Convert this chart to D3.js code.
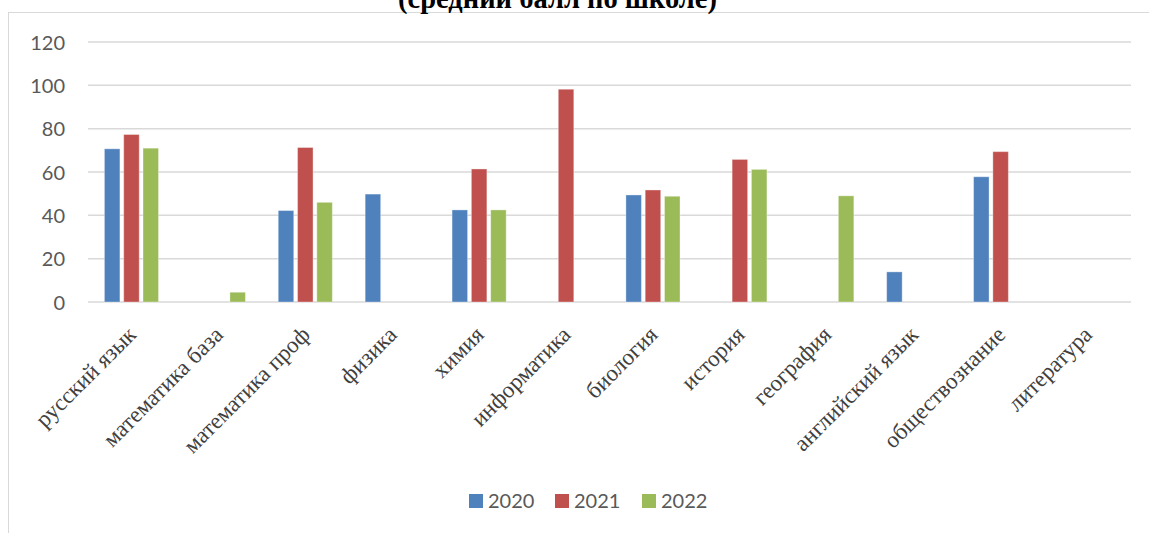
<!DOCTYPE html>
<html><head><meta charset="utf-8">
<script src="https://cdn.jsdelivr.net/npm/d3@7"></script>
<style>body{margin:0;background:#fff;}svg{display:block;}</style>
</head><body>
<svg id="c" width="1149" height="533"></svg>
<script>
const categories = ["русский язык","математика база","математика проф","физика","химия","информатика","биология","история","география","английский язык","обществознание","литература"];
const seriesNames = ["2020","2021","2022"];
const v2020 = [70.7, null, 42.2, 49.8, 42.5, null, 49.4, null, null, 13.9, 57.8, null];
const v2021 = [77.3, null, 71.3, null, 61.4, 98.2, 51.7, 65.8, null, null, 69.4, null];
const v2022 = [71.0, 4.5, 46.0, null, 42.5, null, 48.8, 61.2, 49.0, null, null, null];
const yTicks = [0,20,40,60,80,100,120];
const colors = ["#4f81bd","#c0504d","#9bbb59"];
const titleText = "(средний балл по школе)";

const series = [v2020, v2021, v2022];
const svg = d3.select("#c");

// frame
svg.append("rect").attr("x",8.5).attr("y",12.5).attr("width",1160).attr("height",540)
  .attr("fill","none").attr("stroke","#d9d9d9").attr("stroke-width",1);

// title (partially cut off at the top, as in the reference)
svg.append("text").attr("x",557.5).attr("y",8).attr("text-anchor","middle")
  .attr("font-family","Liberation Serif, Times New Roman, serif").attr("font-weight","bold")
  .attr("font-size",28.5).attr("fill","#000").text(titleText);

const pL = 88, pR = 1131, pT = 42, pB = 302;
const x = d3.scaleBand().domain(categories).range([pL,pR]).paddingInner(0).paddingOuter(0);
const y = d3.scaleLinear().domain([0,120]).range([pB,pT]);

// gridlines
svg.append("g").selectAll("line").data(yTicks).join("line")
  .attr("x1",pL).attr("x2",pR).attr("y1",d=>y(d)).attr("y2",d=>y(d))
  .attr("stroke","#d9d9d9").attr("stroke-width",1.5);

// y axis labels
const yAxis = d3.axisLeft(y).tickValues(yTicks).tickSize(0).tickPadding(0);
const ya = svg.append("g").attr("transform",`translate(65,0)`).call(yAxis);
ya.select(".domain").remove();
ya.selectAll("text").attr("font-family","Lato, Carlito, Calibri, sans-serif").attr("font-size",20)
  .attr("fill","#595959").attr("dy","0.36em");

// bars
const barW = 15.5, gap = 3.8;
const groupW = 3*barW + 2*gap;
const sub = d3.scaleBand().domain(seriesNames).range([0, groupW]).paddingInner(gap/(barW+gap)).paddingOuter(0);
series.forEach((vals, si) => {
  svg.append("g").selectAll("rect").data(categories.map((c,i)=>({c, v: vals[i]})).filter(d=>d.v!=null)).join("rect")
    .attr("x", d => x(d.c) + x.bandwidth()/2 - groupW/2 + sub(seriesNames[si]))
    .attr("width", sub.bandwidth())
    .attr("y", d => y(d.v))
    .attr("height", d => y(0) - y(d.v))
    .attr("fill", colors[si])
    .attr("stroke", "rgba(255,255,255,0.35)").attr("stroke-width",1);
});

// x axis labels
const xa = svg.append("g").attr("transform",`translate(0,${pB})`).call(d3.axisBottom(x).tickSize(0).tickPadding(0));
xa.select(".domain").remove();
xa.selectAll("text")
  .attr("font-family","Liberation Serif, Times New Roman, serif").attr("font-size",23)
  .attr("fill","#404040")
  .attr("text-anchor","end")
  .attr("transform","translate(6,34) rotate(-45)")
  .attr("dy",0).attr("y",0);

// legend
const legX = [469, 555, 642];
const lg = svg.append("g");
seriesNames.forEach((s,i)=>{
  lg.append("rect").attr("x",legX[i]).attr("y",494).attr("width",14).attr("height",14).attr("fill",colors[i]);
  lg.append("text").attr("x",legX[i]+19).attr("y",508).attr("font-family","Lato, Carlito, Calibri, sans-serif")
    .attr("font-size",20).attr("fill","#595959").text(s);
});
</script>
</body></html>
